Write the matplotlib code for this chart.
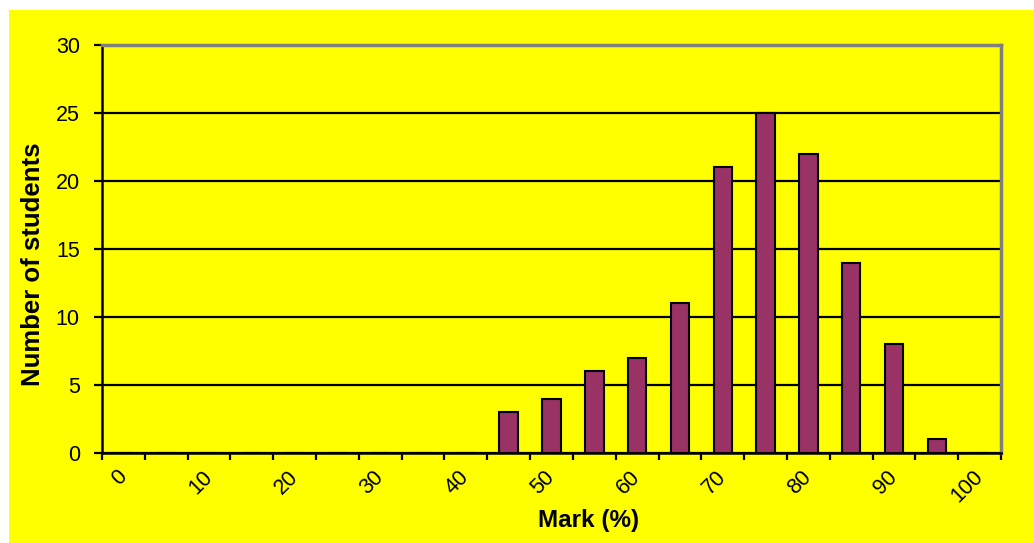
import numpy as np
import matplotlib
matplotlib.use('Agg')
import matplotlib.pyplot as plt

# mark bins (%) and number of students in each bin
marks = [0, 5, 10, 15, 20, 25, 30, 35, 40, 45, 50, 55, 60, 65, 70, 75, 80, 85, 90, 95, 100]
students = [0, 0, 0, 0, 0, 0, 0, 0, 0, 3, 4, 6, 7, 11, 21, 25, 22, 14, 8, 1, 0]
tick_labels = ['0', '10', '20', '30', '40', '50', '60', '70', '80', '90', '100']

plt.rcParams['font.family'] = ['Liberation Sans', 'DejaVu Sans']

yellow = '#ffff00'
fig = plt.figure(figsize=(10.34, 5.43), dpi=100)
fig.patch.set_facecolor('white')
# yellow chart area (Excel style), leaves a thin white margin top/left
fig.patches.append(plt.Rectangle((9 / 1034, 0), 1, 1 - 10 / 543, transform=fig.transFigure,
                                 facecolor=yellow, edgecolor='none', zorder=-10))

ax = fig.add_axes([102 / 1034, 1 - 453 / 543, (1001 - 102) / 1034, (453 - 45) / 543])
ax.set_facecolor(yellow)

pos = np.arange(len(marks))
ax.bar(pos, students, width=0.43, color='#993366', edgecolor='black', linewidth=1.5, zorder=3)

ax.set_xlim(-0.5, len(marks) - 0.5)
ax.set_ylim(0, 30)
ax.set_yticks(np.arange(0, 31, 5))
ax.yaxis.grid(True, color='black', linewidth=1.6, zorder=1)
ax.set_axisbelow(True)

# tick marks on bin boundaries, labels on every other bin centre
ax.set_xticks(np.arange(-0.5, len(marks), 1.0), minor=True)
ax.set_xticks(pos[::2])
ax.set_xticklabels(tick_labels, rotation=45, ha='right', va='center', rotation_mode='anchor')
ax.tick_params(axis='x', which='major', length=0, pad=15, labelsize=15.5)
ax.tick_params(axis='x', which='minor', length=5, width=1.6, color='black', direction='out')
ax.tick_params(axis='y', length=6, width=1.6, color='black', labelsize=15.5, pad=10)

for side in ['top', 'right']:
    ax.spines[side].set_color('#808080')
    ax.spines[side].set_linewidth(2.5)
for side in ['left', 'bottom']:
    ax.spines[side].set_color('black')
    ax.spines[side].set_linewidth(1.8)

fig.text(33 / 1034, 1 - 264 / 543, 'Number of students', rotation=90, ha='center', va='center',
         fontsize=18.5, fontweight='bold')
fig.text(589 / 1034, 1 - 521 / 543, 'Mark (%)', ha='center', va='center',
         fontsize=17.5, fontweight='bold')

fig.savefig('out.png', dpi=100, facecolor=fig.get_facecolor())
